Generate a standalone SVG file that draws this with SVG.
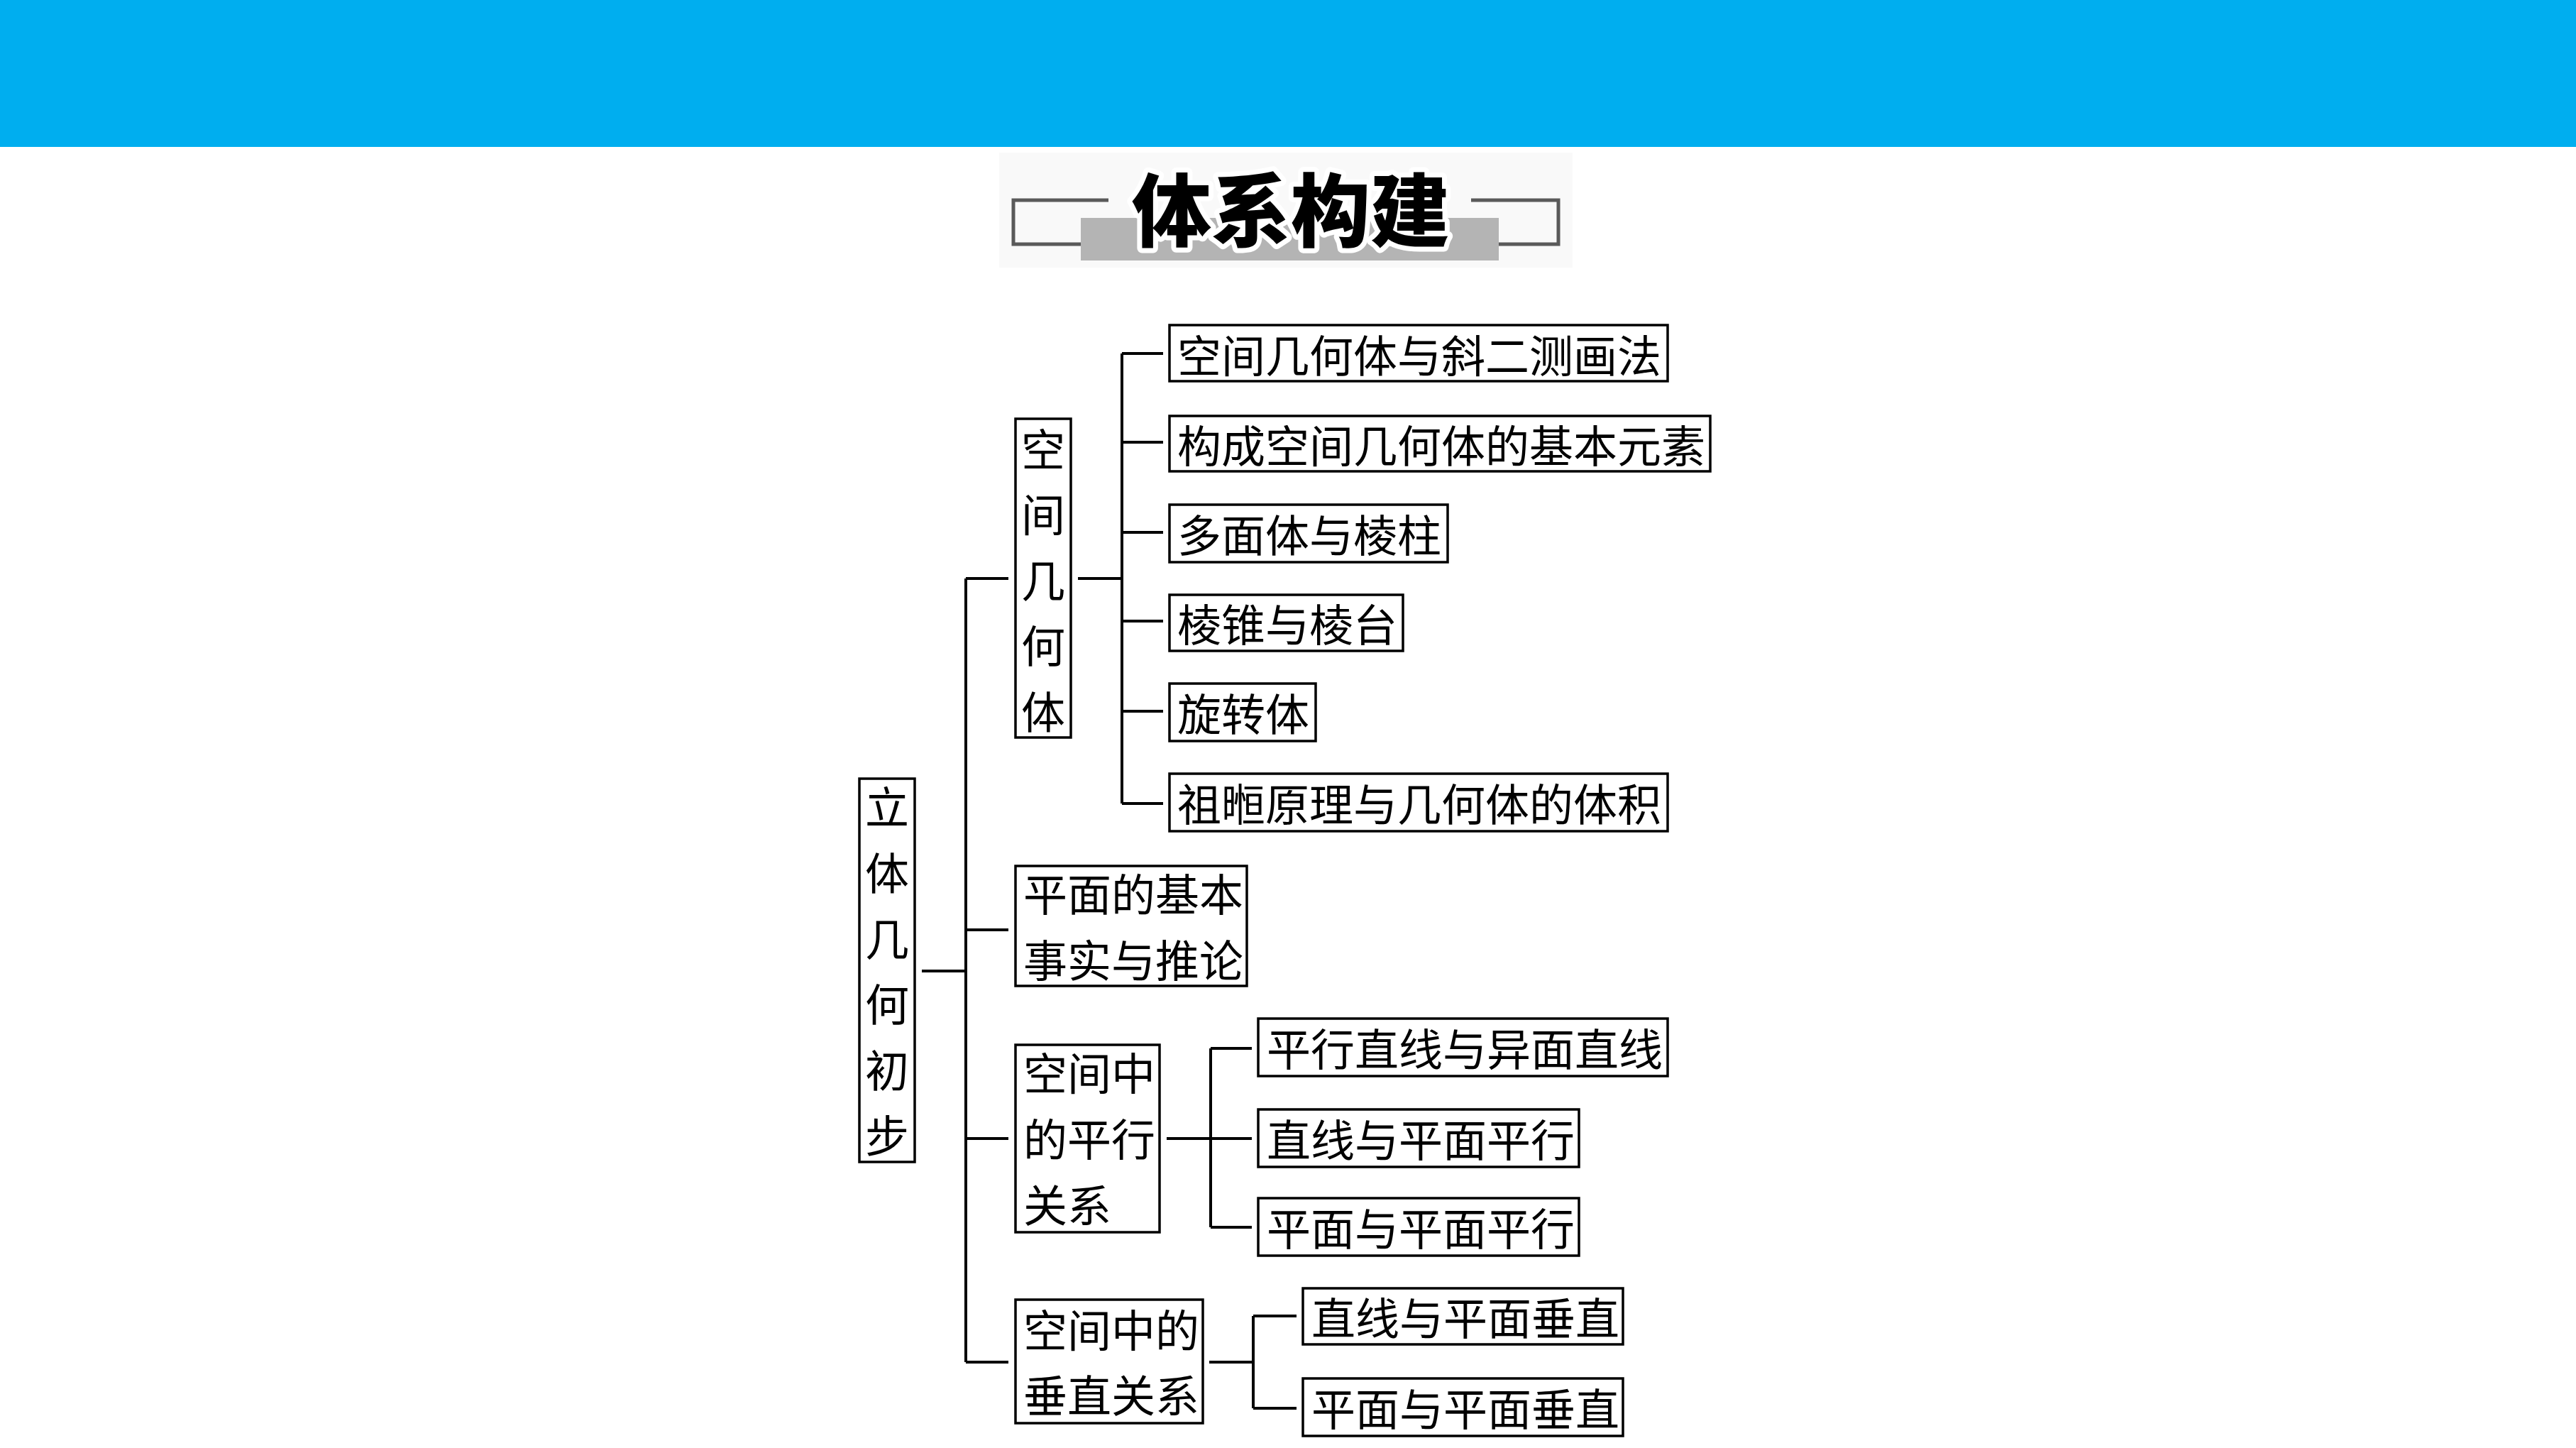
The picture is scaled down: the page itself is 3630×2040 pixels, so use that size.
<svg xmlns="http://www.w3.org/2000/svg" width="3630" height="2040" viewBox="0 0 3630 2040">
<style>
.box{fill:#fff;stroke:#000;stroke-width:3.5}
.t{font-family:"Noto Sans CJK SC",sans-serif;font-size:62px;fill:#000;dominant-baseline:central}
.tv{font-family:"Noto Sans CJK SC",sans-serif;font-size:62px;fill:#000;dominant-baseline:central;text-anchor:middle}
.c{fill:none;stroke:#000;stroke-width:4}
.br{fill:none;stroke:#5a5a5a;stroke-width:5}
</style>
<rect x="0" y="0" width="3630" height="207" fill="#00AEEF"/>
<g id="title">
<rect x="1408" y="215" width="808" height="162" fill="#f9f9f9"/>
<path class="br" d="M1562 282 H1428 V344 H1530"/>
<path class="br" d="M2073 282 H2196 V344 H2105"/>
<rect x="1523" y="307" width="589" height="60" fill="#b4b4b4"/>
<text x="1819" y="290" font-family="Noto Sans CJK SC,sans-serif" font-size="112" font-weight="900" text-anchor="middle" dominant-baseline="central" fill="#000" stroke="#fff" stroke-width="14" stroke-linejoin="round" paint-order="stroke">体系构建</text>
</g>
<g id="connectors">
<path class="c" d="M1299 1368 H1361"/>
<path class="c" d="M1361 815 V1919"/>
<path class="c" d="M1361 815 H1421 M1361 1310 H1421 M1361 1604 H1421 M1361 1919 H1421"/>
<path class="c" d="M1519 815 H1581 M1581 498 V1132"/>
<path class="c" d="M1581 498 H1639 M1581 623 H1639 M1581 750 H1639 M1581 875 H1639 M1581 1002 H1639 M1581 1132 H1639"/>
<path class="c" d="M1644 1604 H1706 M1706 1477 V1729 M1706 1477 H1764 M1706 1604 H1764 M1706 1729 H1764"/>
<path class="c" d="M1704 1919 H1766 M1766 1854 V1984 M1766 1854 H1827 M1766 1984 H1827"/>
</g>
<g id="root">
<rect class="box" x="1211" y="1097" width="78" height="540"/>
<text class="tv" x="1250" y="1134">立</text>
<text class="tv" x="1250" y="1227">体</text>
<text class="tv" x="1250" y="1320">几</text>
<text class="tv" x="1250" y="1412">何</text>
<text class="tv" x="1250" y="1505">初</text>
<text class="tv" x="1250" y="1597">步</text>
</g>
<g id="kjjht">
<rect class="box" x="1431" y="590" width="78" height="449"/>
<text class="tv" x="1470" y="630">空</text>
<text class="tv" x="1470" y="722">间</text>
<text class="tv" x="1470" y="815">几</text>
<text class="tv" x="1470" y="907">何</text>
<text class="tv" x="1470" y="1000">体</text>
</g>
<g id="pmjbss">
<rect class="box" x="1431" y="1220" width="326" height="169"/>
<text class="t" x="1442" y="1257">平面的基本</text>
<text class="t" x="1442" y="1350">事实与推论</text>
</g>
<g id="pxgx">
<rect class="box" x="1431" y="1472" width="203" height="264"/>
<text class="t" x="1442" y="1509">空间中</text>
<text class="t" x="1442" y="1602">的平行</text>
<text class="t" x="1442" y="1695">关系</text>
</g>
<g id="czgx">
<rect class="box" x="1431" y="1831" width="264" height="174"/>
<text class="t" x="1442" y="1871">空间中的</text>
<text class="t" x="1442" y="1963">垂直关系</text>
</g>
<g id="n1"><rect class="box" x="1648" y="458" width="702" height="79"/><text class="t" x="1659" y="498">空间几何体与斜二测画法</text></g>
<g id="n2"><rect class="box" x="1648" y="586" width="762" height="78"/><text class="t" x="1659" y="625">构成空间几何体的基本元素</text></g>
<g id="n3"><rect class="box" x="1648" y="711" width="392" height="81"/><text class="t" x="1659" y="751">多面体与棱柱</text></g>
<g id="n4"><rect class="box" x="1648" y="838" width="329" height="79"/><text class="t" x="1659" y="877">棱锥与棱台</text></g>
<g id="n5"><rect class="box" x="1648" y="963" width="206" height="81"/><text class="t" x="1659" y="1003">旋转体</text></g>
<g id="n6"><rect class="box" x="1648" y="1090" width="702" height="81"/><text class="t" x="1659" y="1130">祖暅原理与几何体的体积</text></g>
<g id="p1"><rect class="box" x="1773" y="1435" width="577" height="81"/><text class="t" x="1785" y="1475">平行直线与异面直线</text></g>
<g id="p2"><rect class="box" x="1773" y="1563" width="452" height="81"/><text class="t" x="1785" y="1603">直线与平面平行</text></g>
<g id="p3"><rect class="box" x="1773" y="1688" width="452" height="81"/><text class="t" x="1785" y="1728">平面与平面平行</text></g>
<g id="v1"><rect class="box" x="1836" y="1815" width="451" height="79"/><text class="t" x="1848" y="1854">直线与平面垂直</text></g>
<g id="v2"><rect class="box" x="1836" y="1942" width="451" height="81"/><text class="t" x="1848" y="1982">平面与平面垂直</text></g>
</svg>
